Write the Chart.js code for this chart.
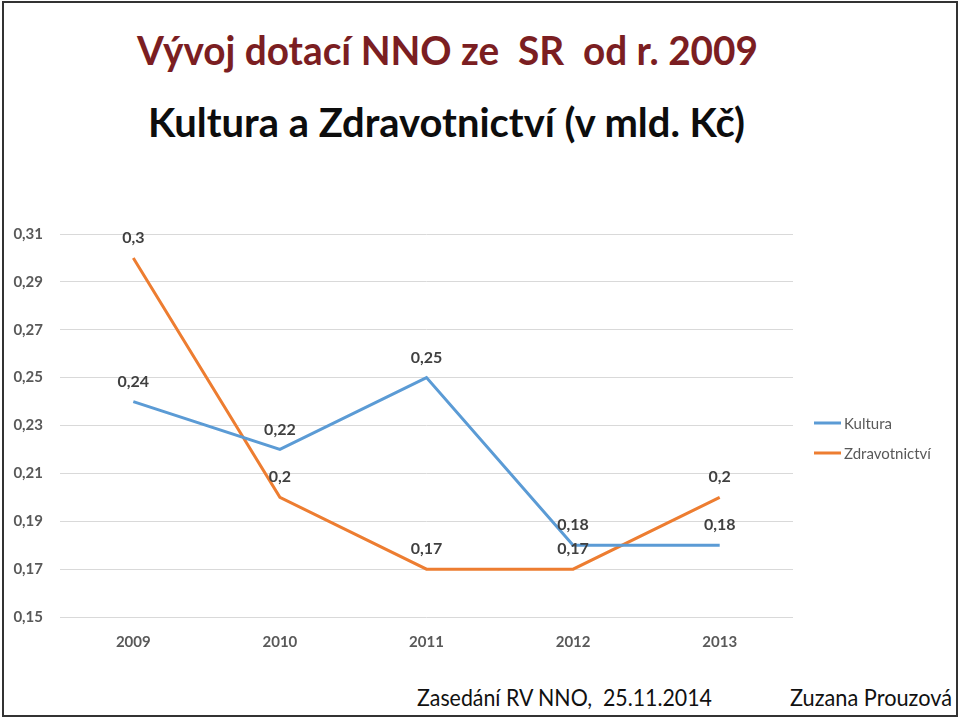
<!DOCTYPE html>
<html><head><meta charset="utf-8">
<script src="https://cdn.jsdelivr.net/npm/chart.js@4/dist/chart.umd.min.js"></script>
<style>
html,body{margin:0;padding:0;background:#fff;width:960px;height:720px;overflow:hidden;font-family:Lato,"Open Sans",sans-serif;}
#frame{position:absolute;left:2px;top:1px;width:952px;height:712px;border:2px solid #333;}
.t{position:absolute;white-space:nowrap;transform-origin:0 0;line-height:1;}
#title{left:137px;top:30px;font-size:40px;font-weight:700;color:#7B1E22;}
#sub{left:148px;top:102px;font-size:40px;font-weight:700;color:#0d0d0d;}
#foot1{left:417px;top:686px;font-size:23px;color:#111;}
#foot2{left:790px;top:686px;font-size:23px;color:#111;}
#c{position:absolute;left:0;top:0;}
</style></head>
<body>
<div id="frame"></div>
<div class="t" id="title" data-w="621">Vývoj dotací NNO ze&nbsp; SR&nbsp; od r. 2009</div>
<div class="t" id="sub" data-w="597">Kultura a Zdravotnictví (v mld. Kč)</div>
<div class="t" id="foot1" data-w="295">Zasedání RV NNO,&nbsp; 25.11.2014</div>
<div class="t" id="foot2" data-w="162">Zuzana Prouzová</div>
<canvas id="c" width="960" height="720"></canvas>
<script>
const years = ['2009','2010','2011','2012','2013'];
const kultura = [0.24, 0.22, 0.25, 0.18, 0.18];
const zdravotnictvi = [0.30, 0.20, 0.17, 0.17, 0.20];
const seriesNames = ['Kultura', 'Zdravotnictví'];
const yMin = 0.15, yMax = 0.31, yStep = 0.02;

document.querySelectorAll('.t').forEach(el=>{
  const w = el.getBoundingClientRect().width;
  const target = +el.dataset.w;
  el.style.transform = 'scaleX(' + (target / w) + ')';
});

const fmt = v => String(+v.toFixed(2)).replace('.', ',');
const FONT = 'Lato, "Open Sans", sans-serif';

const labelsPlugin = {
  id: 'valueLabels',
  afterDatasetsDraw(chart) {
    const ctx = chart.ctx;
    ctx.save();
    ctx.font = 'bold 16px ' + FONT;
    ctx.fillStyle = '#404040';
    ctx.textAlign = 'center';
    ctx.textBaseline = 'middle';
    chart.data.datasets.forEach((ds, i) => {
      chart.getDatasetMeta(i).data.forEach((pt, j) => {
        ctx.fillText(fmt(ds.data[j]), pt.x, pt.y - 20);
      });
    });
    // legend
    ctx.font = '15px ' + FONT;
    ctx.fillStyle = '#595959';
    ctx.textAlign = 'left';
    chart.data.datasets.forEach((ds, i) => {
      const y = 423 + i * 30;
      ctx.strokeStyle = ds.borderColor;
      ctx.lineWidth = 3;
      ctx.beginPath(); ctx.moveTo(814, y); ctx.lineTo(841, y); ctx.stroke();
      ctx.fillText(ds.label, 844, y + 1);
    });
    ctx.restore();
  }
};

new Chart(document.getElementById('c'), {
  type: 'line',
  data: {
    labels: years,
    datasets: [
      {label: seriesNames[0], data: kultura, borderColor: '#5B9BD5', backgroundColor: '#5B9BD5', borderWidth: 3, pointRadius: 0, tension: 0},
      {label: seriesNames[1], data: zdravotnictvi, borderColor: '#ED7D31', backgroundColor: '#ED7D31', borderWidth: 3, pointRadius: 0, tension: 0}
    ]
  },
  options: {
    responsive: false,
    animation: false,
    layout: {padding: {left: 0, top: 234, right: 167, bottom: 63}},
    plugins: {legend: {display: false}, tooltip: {enabled: false}, title: {display: false}},
    scales: {
      x: {
        offset: true,
        grid: {display: false, drawTicks: false},
        border: {display: false},
        ticks: {color: '#595959', font: {family: FONT, size: 15, weight: 'bold'}, padding: 16},
        afterFit: s => { s.height = 40; }
      },
      y: {
        min: yMin, max: yMax,
        grid: {color: '#D9D9D9', lineWidth: 1, drawTicks: false},
        border: {display: false},
        ticks: {stepSize: yStep, color: '#595959', font: {family: FONT, size: 15, weight: 'bold'}, padding: 17, callback: v => v.toFixed(2).replace('.', ',')},
        afterFit: s => { s.width = 60; }
      }
    }
  },
  plugins: [labelsPlugin]
});
</script>
</body></html>
